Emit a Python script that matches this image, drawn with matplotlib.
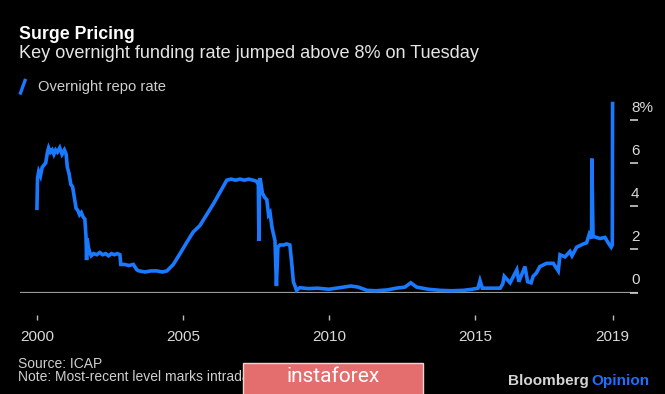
import matplotlib
matplotlib.use("Agg")
import matplotlib.pyplot as plt
import matplotlib.transforms as mtransforms
from matplotlib.patches import Rectangle

# Overnight repo rate (%)
years = [
    2000.00, 2000.02, 2000.06, 2000.12, 2000.18, 2000.24, 2000.30, 2000.36, 2000.40, 2000.46,
    2000.52, 2000.58, 2000.64, 2000.70, 2000.78, 2000.86, 2000.94, 2001.00, 2001.04, 2001.10,
    2001.16, 2001.22, 2001.28, 2001.34, 2001.40, 2001.46, 2001.52, 2001.58, 2001.64, 2001.68,
    2001.70, 2001.72, 2001.76, 2001.80, 2001.86, 2001.94, 2002.05, 2002.15, 2002.25, 2002.35,
    2002.45, 2002.55, 2002.65, 2002.75, 2002.84, 2002.87, 2003.00, 2003.15, 2003.30, 2003.42,
    2003.50, 2003.70, 2003.90, 2004.10, 2004.30, 2004.45, 2004.67, 2004.90, 2005.12, 2005.35,
    2005.58, 2005.81, 2006.04, 2006.27, 2006.50, 2006.65, 2006.80, 2006.95, 2007.10, 2007.25,
    2007.40, 2007.52, 2007.58, 2007.60, 2007.62, 2007.64, 2007.72, 2007.80, 2007.87, 2007.93,
    2007.98, 2008.05, 2008.15, 2008.20, 2008.25, 2008.32, 2008.45, 2008.55, 2008.66, 2008.72,
    2008.78, 2008.89, 2009.00, 2009.30, 2009.60, 2010.00, 2010.50, 2010.75, 2011.00, 2011.30,
    2011.60, 2012.00, 2012.30, 2012.60, 2012.80, 2013.00, 2013.40, 2013.80, 2014.20, 2014.60,
    2014.90, 2015.10, 2015.17, 2015.25, 2015.50, 2015.86, 2015.95, 2016.00, 2016.20, 2016.43,
    2016.50, 2016.71, 2016.80, 2016.92, 2016.99, 2017.10, 2017.22, 2017.45, 2017.68, 2017.85,
    2017.91, 2018.08, 2018.25, 2018.32, 2018.48, 2018.71, 2018.82, 2018.91, 2018.99, 2019.00,
    2019.04, 2019.28, 2019.45, 2019.56, 2019.66, 2019.70, 2019.71,
]
rates = [
    3.9, 5.3, 5.6, 5.4, 5.8, 5.9, 6.0, 6.5, 6.7, 6.5,
    6.6, 6.4, 6.6, 6.5, 6.7, 6.4, 6.6, 6.4, 5.8, 5.5,
    5.0, 4.9, 4.4, 3.9, 3.8, 3.6, 3.7, 3.5, 3.4, 2.6,
    1.5, 2.5, 2.1, 1.9, 1.7, 1.8, 1.75, 1.85, 1.75, 1.8,
    1.7, 1.8, 1.75, 1.8, 1.75, 1.3, 1.3, 1.25, 1.3, 1.05,
    1.0, 0.95, 1.0, 1.0, 0.95, 1.0, 1.3, 1.8, 2.3, 2.8,
    3.1, 3.6, 4.1, 4.65, 5.2, 5.25, 5.2, 5.25, 5.2, 5.25,
    5.2, 5.15, 5.0, 2.4, 4.9, 5.3, 4.6, 4.4, 4.3, 3.6,
    3.7, 3.0, 2.4, 0.3, 2.1, 2.2, 2.2, 2.25, 2.2, 1.4,
    0.5, 0.1, 0.22, 0.18, 0.2, 0.15, 0.25, 0.3, 0.25, 0.1,
    0.08, 0.12, 0.2, 0.25, 0.45, 0.25, 0.15, 0.1, 0.08, 0.1,
    0.15, 0.2, 0.55, 0.2, 0.2, 0.2, 0.4, 0.75, 0.45, 1.05,
    0.5, 1.2, 0.5, 0.45, 0.75, 0.9, 1.2, 1.35, 1.35, 1.0,
    1.75, 1.65, 1.9, 1.7, 2.1, 2.25, 2.3, 2.7, 2.5, 6.2,
    2.6, 2.5, 2.55, 2.3, 2.1, 2.2, 8.75,
]

xtick_pos = [2000, 2005, 2010, 2015, 2019.71]
xtick_labels = ["2000", "2005", "2010", "2015", "2019"]
ytick_vals = [0, 2, 4, 6, 8]
ytick_labels = ["0", "2", "4", "6", "8%"]

BLUE = "#1a7aff"
plt.rcParams["font.family"] = ["Liberation Sans", "DejaVu Sans"]

W, H = 665, 394
fig = plt.figure(figsize=(W / 100, H / 100), dpi=100, facecolor="black")


def fx(px):
    return px / W


def fy(py):
    return 1 - py / H


ax = fig.add_axes([fx(20), fy(292.5), (638 - 20) / W, (292.5 - 93.8) / H])
ax.set_facecolor("black")
ax.plot(years, rates, color=BLUE, lw=2.6, solid_joinstyle="miter")
ax.axhline(0, color="#9a9a9a", lw=1.6, zorder=0)
ax.set_xlim(1999.42, 2020.58)
ax.set_ylim(0, 9.2)

for s in ["top", "left", "right"]:
    ax.spines[s].set_visible(False)
ax.spines["bottom"].set_position(("outward", 16.2))
ax.spines["bottom"].set_visible(False)

ax.set_xticks(xtick_pos)
ax.set_xticklabels(xtick_labels)
ax.tick_params(axis="x", direction="out", length=3.6, width=1, color="#bbbbbb",
               labelsize=11, labelcolor="#d9d9d9", pad=7)

ax.yaxis.tick_right()
ax.set_yticks(ytick_vals)
ax.tick_params(axis="y", direction="in", length=5.8, width=1.2, color="#cccccc",
               labelright=False, labelleft=False)
trans = mtransforms.blended_transform_factory(ax.transAxes, ax.transData)
for v, lab in zip(ytick_vals, ytick_labels):
    ax.text((631 - 20) / 618, v + 0.56, lab, transform=trans, ha="left", va="center",
            fontsize=11, color="#d9d9d9")

# header
fig.text(fx(19), fy(39), "Surge Pricing", fontsize=12.8, fontweight="bold", color="white",
         va="baseline")
fig.text(fx(19), fy(58.5), "Key overnight funding rate jumped above 8% on Tuesday",
         fontsize=13.1, color="#e6e6e6", va="baseline")
fig.lines.append(plt.Line2D([fx(20.5), fx(25)], [fy(93), fy(80.5)], transform=fig.transFigure,
                            color=BLUE, lw=2.4))
fig.text(fx(38), fy(91.5), "Overnight repo rate", fontsize=10.6, color="#d0d0d0", va="baseline")

# footer
fig.text(fx(18), fy(368), "Source: ICAP", fontsize=10, color="#cfcfcf", va="baseline")
fig.text(fx(18), fy(381.5), "Note: Most-recent level marks intraday high", fontsize=10,
         color="#cfcfcf", va="baseline")
fig.text(fx(508), fy(385), "Bloomberg", fontsize=11, fontweight="bold", color="#d4d4d4",
         va="baseline")
fig.text(fx(591), fy(385), "Opinion", fontsize=11, fontweight="bold", color="#1e6fff",
         va="baseline")

# watermark overlay
fig.patches.append(Rectangle((fx(243), fy(396)), (423 - 243) / W, (396 - 363) / H,
                             transform=fig.transFigure, facecolor="#e46e6e",
                             edgecolor="#f2d2d2", lw=1, zorder=5))
fig.text(fx(333), fy(377), "instaforex", fontsize=15, color="white", ha="center",
         va="center", family="Roboto", zorder=6)

fig.savefig("out.png", dpi=100, facecolor="black")
